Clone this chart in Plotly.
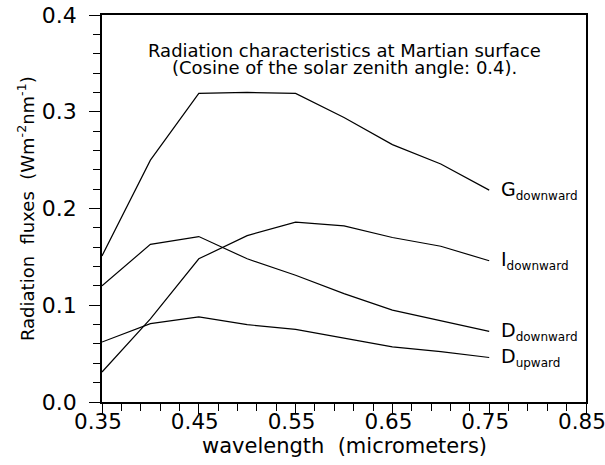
import plotly.graph_objects as go

wavelength = [0.35, 0.40, 0.45, 0.50, 0.55, 0.60, 0.65, 0.70, 0.75]
g_down = [0.151, 0.250, 0.319, 0.320, 0.319, 0.294, 0.266, 0.246, 0.219]
i_down = [0.031, 0.086, 0.148, 0.172, 0.186, 0.182, 0.170, 0.161, 0.146]
d_down = [0.120, 0.163, 0.171, 0.148, 0.131, 0.112, 0.095, 0.084, 0.073]
d_up = [0.062, 0.081, 0.088, 0.080, 0.075, 0.066, 0.057, 0.052, 0.046]

x_ticks = [0.35, 0.45, 0.55, 0.65, 0.75, 0.85]
x_tick_labels = ["0.35", "0.45", "0.55", "0.65", "0.75", "0.85"]
y_ticks = [0.0, 0.1, 0.2, 0.3, 0.4]
y_tick_labels = ["0.0", "0.1", "0.2", "0.3", "0.4"]

series = [
    ("G", "downward", g_down),
    ("I", "downward", i_down),
    ("D", "downward", d_down),
    ("D", "upward", d_up),
]

FONT = "DejaVu Sans"
fig = go.Figure()
for main, sub, ys in series:
    fig.add_trace(go.Scatter(x=wavelength, y=ys, mode="lines",
                             line=dict(color="black", width=1.2),
                             showlegend=False, hoverinfo="skip"))
    fig.add_annotation(x=0.76, y=ys[-1], xref="x", yref="y",
                       text=f"{main}<sub><span style='font-size:12px'>{sub}</span></sub>",
                       showarrow=False, xanchor="left", yanchor="middle",
                       font=dict(family=FONT, size=19, color="black"))

fig.add_annotation(x=0.5, y=0.3636, xref="paper", yref="y",
                   text="Radiation characteristics at Martian surface",
                   showarrow=False, xanchor="center", yanchor="middle",
                   font=dict(family=FONT, size=18, color="black"))
fig.add_annotation(x=0.5, y=0.346, xref="paper", yref="y",
                   text="(Cosine of the solar zenith angle: 0.4).",
                   showarrow=False, xanchor="center", yanchor="middle",
                   font=dict(family=FONT, size=18, color="black"))

# axis titles
fig.add_annotation(x=0.5, y=-0.1137, xref="paper", yref="paper",
                   text="wavelength  (micrometers)", showarrow=False,
                   xanchor="center", yanchor="middle",
                   font=dict(family=FONT, size=21, color="black"))
fig.add_annotation(x=-0.158, y=0.5, xref="paper", yref="paper",
                   text="Radiation  fluxes  (Wm<sup>-2</sup>nm<sup>-1</sup>)",
                   showarrow=False, textangle=-90,
                   xanchor="center", yanchor="middle",
                   font=dict(family=FONT, size=18, color="black"))

axis_common = dict(showline=True, linecolor="black", linewidth=1.5, mirror=True,
                   showgrid=False, zeroline=False, ticks="outside",
                   tickcolor="black", tickwidth=1.2, automargin=False,
                   ticklabeloverflow="allow")

fig.update_xaxes(range=[0.35, 0.85], tickmode="array", tickvals=x_ticks,
                 ticktext=x_tick_labels, ticklen=10, ticklabelstandoff=-11,
                 ticklabelshift=-4,
                 tickfont=dict(family=FONT, size=21.5, color="black"),
                 minor=dict(dtick=0.02, tick0=0.35, ticklen=7, ticks="outside",
                            tickcolor="black", tickwidth=1.2),
                 **axis_common)
fig.update_yaxes(range=[0.0, 0.4], tickmode="array", tickvals=y_ticks,
                 ticktext=y_tick_labels, ticklen=11, ticklabelstandoff=8,
                 tickfont=dict(family=FONT, size=22, color="black"),
                 minor=dict(dtick=0.02, tick0=0.0, ticklen=7, ticks="outside",
                            tickcolor="black", tickwidth=1.2),
                 **axis_common)

fig.update_layout(width=605, height=465,
                  margin=dict(l=102, r=19, t=15, b=63),
                  paper_bgcolor="white", plot_bgcolor="white")

# remove the default 8px page margin so the figure sits at the window origin
fig.write_html("out.html", config={"displayModeBar": False},
               post_script="document.body.style.margin='0';document.body.style.overflow='hidden';")
